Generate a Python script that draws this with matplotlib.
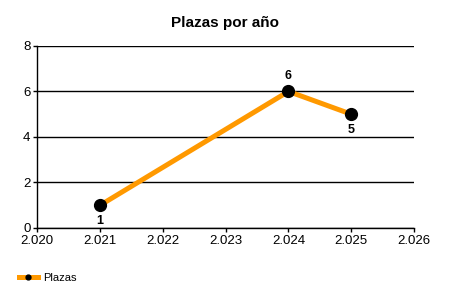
import matplotlib
matplotlib.use("Agg")
from matplotlib import pyplot as plt
from matplotlib.lines import Line2D
from matplotlib.ticker import FuncFormatter

plt.rcParams['font.family'] = ['Liberation Sans', 'DejaVu Sans']

# Plazas por año
years = [2021, 2024, 2025]
plazas = [1, 6, 5]
label_pos = ['below', 'above', 'below']

x_ticks = [2020, 2021, 2022, 2023, 2024, 2025, 2026]
y_ticks = [0, 2, 4, 6, 8]

fig = plt.figure(figsize=(4.5, 3), dpi=100)
ax = fig.add_axes([0.083, 0.24, 0.837, 0.607])

ax.plot(years, plazas, color='#FF9900', linewidth=3.6, marker='o',
        markersize=8.5, markerfacecolor='black', markeredgecolor='black',
        zorder=3, clip_on=False)

for x, y, pos in zip(years, plazas, label_pos):
    off = 7 if pos == 'above' else -7
    ax.annotate(str(y), (x, y), xytext=(0, off), textcoords='offset points',
                ha='center', va='bottom' if pos == 'above' else 'top',
                fontsize=9, fontweight='bold')

ax.set_xlim(2020, 2026)
ax.set_ylim(0, 8)
ax.set_xticks(x_ticks)
ax.set_yticks(y_ticks)
ax.xaxis.set_major_formatter(FuncFormatter(lambda v, p: '{:.3f}'.format(v / 1000)))
ax.tick_params(labelsize=9.5, length=3, width=1, pad=2)
ax.yaxis.grid(True, color='black', linewidth=1)
ax.set_axisbelow(True)
for s in ['top', 'right']:
    ax.spines[s].set_visible(False)
ax.spines['left'].set_linewidth(1)
ax.spines['bottom'].set_linewidth(1)

fig.text(0.5, 0.925, 'Plazas por año', ha='center', va='center',
         fontsize=11, fontweight='bold')

handle = Line2D([], [], color='#FF9900', linewidth=3.6, marker='o',
                markersize=3.5, markerfacecolor='black', markeredgecolor='black')
fig.legend([handle], ['Plazas'], loc='center left', bbox_to_anchor=(0.02, 0.073),
           frameon=False, fontsize=8, handlelength=1.7, handletextpad=0.5)

plt.savefig('out.png', dpi=100)
